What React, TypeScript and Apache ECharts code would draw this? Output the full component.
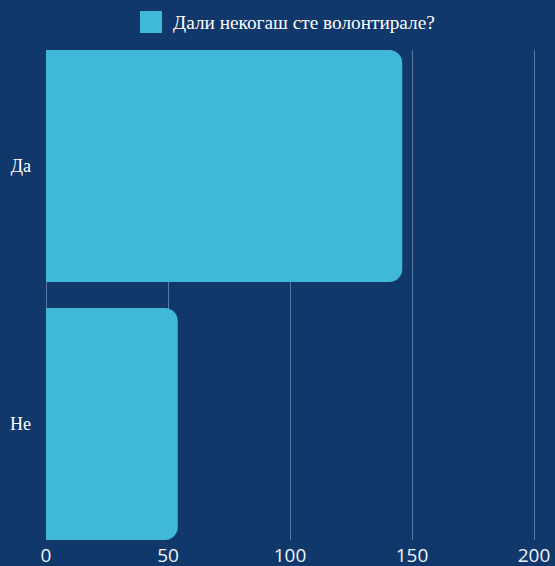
import React, { useEffect, useRef } from "react";
import * as echarts from "echarts";

const categories = ["Да", "Не"];
const values = [146, 54];
const seriesName = "Дали некогаш сте волонтирале?";
const xTicks = [0, 50, 100, 150, 200];

export default function App() {
  const ref = useRef<HTMLDivElement>(null);
  useEffect(() => {
    document.body.style.margin = "0";
    if (!ref.current) return;
    const chart = echarts.init(ref.current, undefined, { renderer: "svg" });
    const bg = "#10386b";
    const barColor = "#40b8d8";
    chart.setOption({
      animation: false,
      backgroundColor: bg,
      legend: {
        top: 11,
        left: 140,
        padding: 0,
        itemWidth: 22,
        itemHeight: 22,
        itemGap: 10,
        icon: "rect",
        data: [seriesName],
        textStyle: {
          color: "#ffffff",
          fontSize: 19.3,
          fontFamily: "Liberation Serif",
          padding: [0, 0, 0, 6],
        },
      },
      grid: [
        { left: 46, right: 21, top: 37, bottom: 13, containLabel: false },
        { left: 46, right: 21, top: 50, bottom: 26, containLabel: false },
      ],
      xAxis: [
        { type: "value", gridIndex: 0, min: 0, max: 200, show: false },
        {
          type: "value",
          gridIndex: 1,
          min: xTicks[0],
          max: xTicks[xTicks.length - 1],
          interval: 50,
          axisLine: { show: false },
          axisTick: { show: false },
          splitLine: { show: true, lineStyle: { color: "#5b7aa3", width: 1 } },
          axisLabel: {
            color: "#eef3f8",
            fontSize: 19,
            fontFamily: "Open Sans",
            margin: 5,
          },
        },
      ],
      yAxis: [
        {
          type: "category",
          gridIndex: 0,
          inverse: true,
          data: categories,
          axisLine: { show: false },
          axisTick: { show: false },
          splitLine: { show: false },
          axisLabel: {
            color: "#ffffff",
            fontSize: 18,
            fontFamily: "Liberation Serif",
            margin: 15,
          },
        },
        {
          type: "category",
          gridIndex: 1,
          data: categories,
          show: false,
        },
      ],
      series: [
        {
          name: seriesName,
          type: "bar",
          xAxisIndex: 0,
          yAxisIndex: 0,
          data: values,
          barCategoryGap: "10%",
          itemStyle: { color: barColor, borderRadius: [0, 13, 13, 0] },
        },
      ],
    });
    return () => chart.dispose();
  }, []);
  return <div ref={ref} style={{ width: 555, height: 566 }} />;
}
